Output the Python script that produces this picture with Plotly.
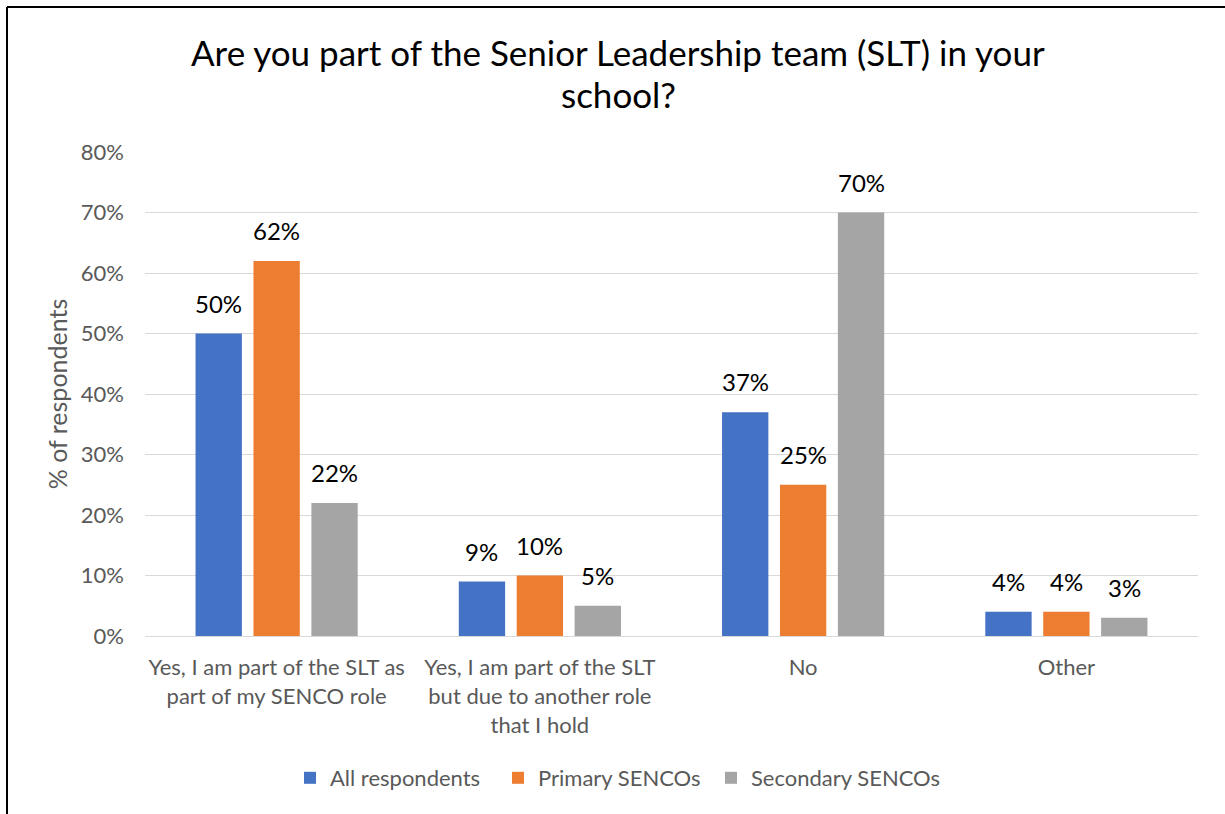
import plotly.graph_objects as go

# Survey question and answer categories
categories = [
    "Yes, I am part of the SLT as<br>part of my SENCO role",
    "Yes, I am part of the SLT<br>but due to another role<br>that I hold",
    "No",
    "Other",
]
series_names = ["All respondents", "Primary SENCOs", "Secondary SENCOs"]
all_respondents = [0.50, 0.09, 0.37, 0.04]
primary_sencos = [0.62, 0.10, 0.25, 0.04]
secondary_sencos = [0.22, 0.05, 0.70, 0.03]
y_ticks = [0, 0.1, 0.2, 0.3, 0.4, 0.5, 0.6, 0.7, 0.8]

colors = ["#4472C4", "#ED7D31", "#A5A5A5"]
series_values = [all_respondents, primary_sencos, secondary_sencos]

W, H = 1225, 814
ML, MR, MT, MB = 145, 27, 152, 178
BARGAP = 0.34
GROUPGAP = 0.2
FONT = "Lato"
GREY = "#595959"

pw = W - ML - MR
ph = H - MT - MB
def px_x(p):
    return (p - ML) / pw
def px_y(p):
    return (H - MB - p) / ph

# one legend per series, laid out side by side at the bottom
legend_ids = ["legend", "legend2", "legend3"]
legend_text_x = [330, 538, 751]

fig = go.Figure()
for name, vals, col, lid in zip(series_names, series_values, colors, legend_ids):
    fig.add_trace(go.Bar(
        x=categories, y=vals, name=name, legend=lid,
        marker=dict(color=col, line=dict(width=0)),
    ))

# value labels above each bar, placed at the grouped bar offsets
slot = (1 - BARGAP) / len(series_names)
annotations = []
for j, vals in enumerate(series_values):
    offset = (j - (len(series_names) - 1) / 2) * slot
    for i, v in enumerate(vals):
        annotations.append(dict(
            x=i + offset, y=v, xref="x", yref="y",
            text=f"{round(v * 100)}%", showarrow=False,
            yanchor="bottom", yshift=14,
            font=dict(family=FONT, size=24, color="#000000"),
        ))

# two-line chart title
title_lines = ["Are you part of the Senior Leadership team (SLT) in your", "school?"]
for line, ypx in zip(title_lines, [52, 94]):
    annotations.append(dict(
        x=px_x(618), y=px_y(ypx), xref="paper", yref="paper",
        xanchor="center", yanchor="middle",
        text=line, showarrow=False,
        font=dict(family=FONT, size=35, color="#000000"),
    ))

# chart frame (left and top edges)
shapes = [
    dict(type="line", xref="paper", yref="paper",
         x0=px_x(7), x1=px_x(7), y0=px_y(7), y1=px_y(H + 5),
         line=dict(color="#000000", width=2)),
    dict(type="line", xref="paper", yref="paper",
         x0=px_x(7), x1=px_x(W + 5), y0=px_y(7), y1=px_y(7),
         line=dict(color="#000000", width=2)),
]

legend_style = dict(
    orientation="h", xanchor="left", y=px_y(778), yanchor="middle",
    font=dict(family=FONT, size=22, color=GREY),
    itemclick=False, itemdoubleclick=False, bgcolor="rgba(0,0,0,0)",
)
legends = {}
for lid, tx in zip(legend_ids, legend_text_x):
    legends[lid] = dict(legend_style, x=px_x(tx - 40))

fig.update_layout(
    width=W, height=H,
    margin=dict(l=ML, r=MR, t=MT, b=MB, autoexpand=False),
    plot_bgcolor="white", paper_bgcolor="white",
    barmode="group", bargap=BARGAP, bargroupgap=GROUPGAP,
    font=dict(family=FONT, color=GREY),
    annotations=annotations, shapes=shapes,
    showlegend=True,
    xaxis=dict(
        showgrid=False, showline=True, linecolor="#D9D9D9", linewidth=1,
        tickfont=dict(family=FONT, size=22, color=GREY),
        ticks="", ticklabelstandoff=12,
    ),
    yaxis=dict(
        range=[0, 0.8], tickvals=y_ticks, tickformat=".0%",
        showgrid=True, gridcolor="#D9D9D9", gridwidth=1,
        zeroline=False, showline=False,
        tickfont=dict(family=FONT, size=22, color=GREY),
        ticklabelstandoff=20,
        title=dict(text="% of respondents", font=dict(family=FONT, size=25, color=GREY), standoff=6),
    ),
    **legends,
)

fig.write_html("out.html")
